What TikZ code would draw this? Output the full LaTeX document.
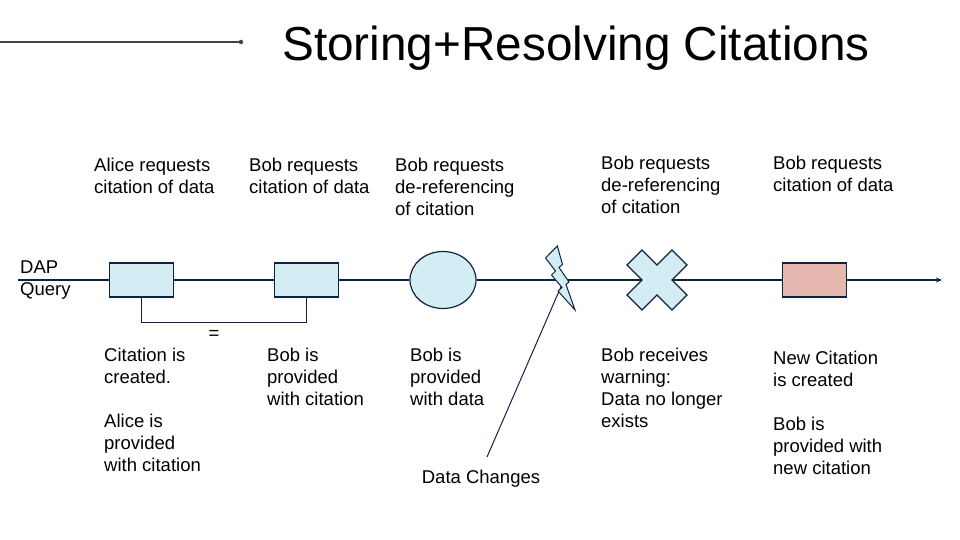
\documentclass[tikz,border=0pt]{standalone}
\usepackage{fontspec}
\setmainfont{Liberation Sans}
\usetikzlibrary{arrows.meta,shapes.geometric}
\definecolor{navy}{HTML}{0F2340}
\definecolor{lblue}{HTML}{D4ECF3}
\definecolor{pinkf}{HTML}{E6B8AF}
\definecolor{rulegray}{HTML}{444444}
\begin{document}
\begin{tikzpicture}[x=1pt,y=-1pt,
  conn/.style={draw=navy, line width=1.5pt},
  boxb/.style={draw=navy, line width=1.4pt, fill=lblue, minimum width=64pt, minimum height=34pt, inner sep=0pt},
  lbl/.style={anchor=north west, inner sep=0pt, align=left, font=\fontsize{18.5}{22}\selectfont},
  shapeline/.style={draw=navy, line width=1.2pt, fill=lblue, line join=miter},
]
\useasboundingbox (0,0) rectangle (960,540);

% title and top rule
\node[font=\fontsize{47.7}{56}\selectfont, anchor=base, inner sep=0pt] (title) at (576,61) {Storing+Resolving Citations};
\coordinate (tl0) at (0,42);
\node[circle, fill=rulegray, inner sep=0pt, minimum size=4.5pt] (tl1) at (241,42) {};
\draw[rulegray, line width=1.3pt] (tl0) -- (tl1.center);

% main shapes
\coordinate (start) at (18,280);
\coordinate (end) at (942,280);
\node[boxb] (bx1) at (141.5,280) {};
\node[boxb] (bx2) at (306.5,280) {};
\node[ellipse, draw=navy, line width=1.2pt, fill=lblue, minimum width=66pt, minimum height=57pt, inner sep=0pt] (circ) at (443,280) {};
\coordinate (xc) at (657,280);
\node[boxb, fill=pinkf] (pk) at (814.5,280) {};
\coordinate (bolttail) at (563,282);
\coordinate (dl) at (487,457);

% connectors
\draw[conn] (start) -- (bx1);
\draw[conn] (bx1) -- (bx2);
\draw[conn] (bx2) -- (circ);
\draw[conn] (circ) -- (xc);
\draw[conn] (xc) -- (pk);
\draw[conn, -{Stealth[length=6pt,width=5pt]}] (pk) -- (end);
\draw[conn, line width=1.4pt] (bx1.south) -- ++(0,25) -| (bx2.south);
\draw[navy, line width=1pt] (bolttail) -- (dl);

% cross
\draw[shapeline, shift={(xc)}] (-30,-15) -- (-15,-30) -- (0,-15) -- (15,-30) -- (30,-15) -- (15,0) -- (30,15) -- (15,30) -- (0,15) -- (-15,30) -- (-30,15) -- (-15,0) -- cycle;

% lightning bolt
\draw[shapeline, line width=1pt] (557.3,246) -- (545.5,258) -- (555.5,271) -- (551.5,275) -- (562,287.5) -- (558,291) -- (575,310) -- (566,284.5) -- (569,282) -- (559,267.5) -- (562.5,264.5) -- cycle;

% labels
\node[lbl] (a1) at (94,157.5) {Alice requests\\citation of data};
\node[lbl] (a2) at (249,157.5) {Bob requests\\citation of data};
\node[lbl] (a3) at (395,157.5) {Bob requests\\de-referencing\\of citation};
\node[lbl] (a4) at (601,155.5) {Bob requests\\de-referencing\\of citation};
\node[lbl] (a5) at (773,155.5) {Bob requests\\citation of data};
\node[lbl] (dap) at (20,261) {DAP\\Query};
\node[font=\fontsize{18.5}{22}\selectfont, inner sep=0pt] (eq) at (214,335) {=};
\node[lbl] (b1) at (104,347.5) {Citation is\\created.\\[22pt]Alice is\\provided\\with citation};
\node[lbl] (b2) at (267,347.5) {Bob is\\provided\\with citation};
\node[lbl] (b3) at (410,347.5) {Bob is\\provided\\with data};
\node[lbl] (b4) at (601,347.5) {Bob receives\\warning:\\Data no longer\\exists};
\node[lbl] (b5) at (773,350.5) {New Citation\\is created\\[22pt]Bob is\\provided with\\new citation};
\node[font=\fontsize{18.5}{22}\selectfont, inner sep=0pt] (dc) at (481,479) {Data Changes};
\end{tikzpicture}
\end{document}
